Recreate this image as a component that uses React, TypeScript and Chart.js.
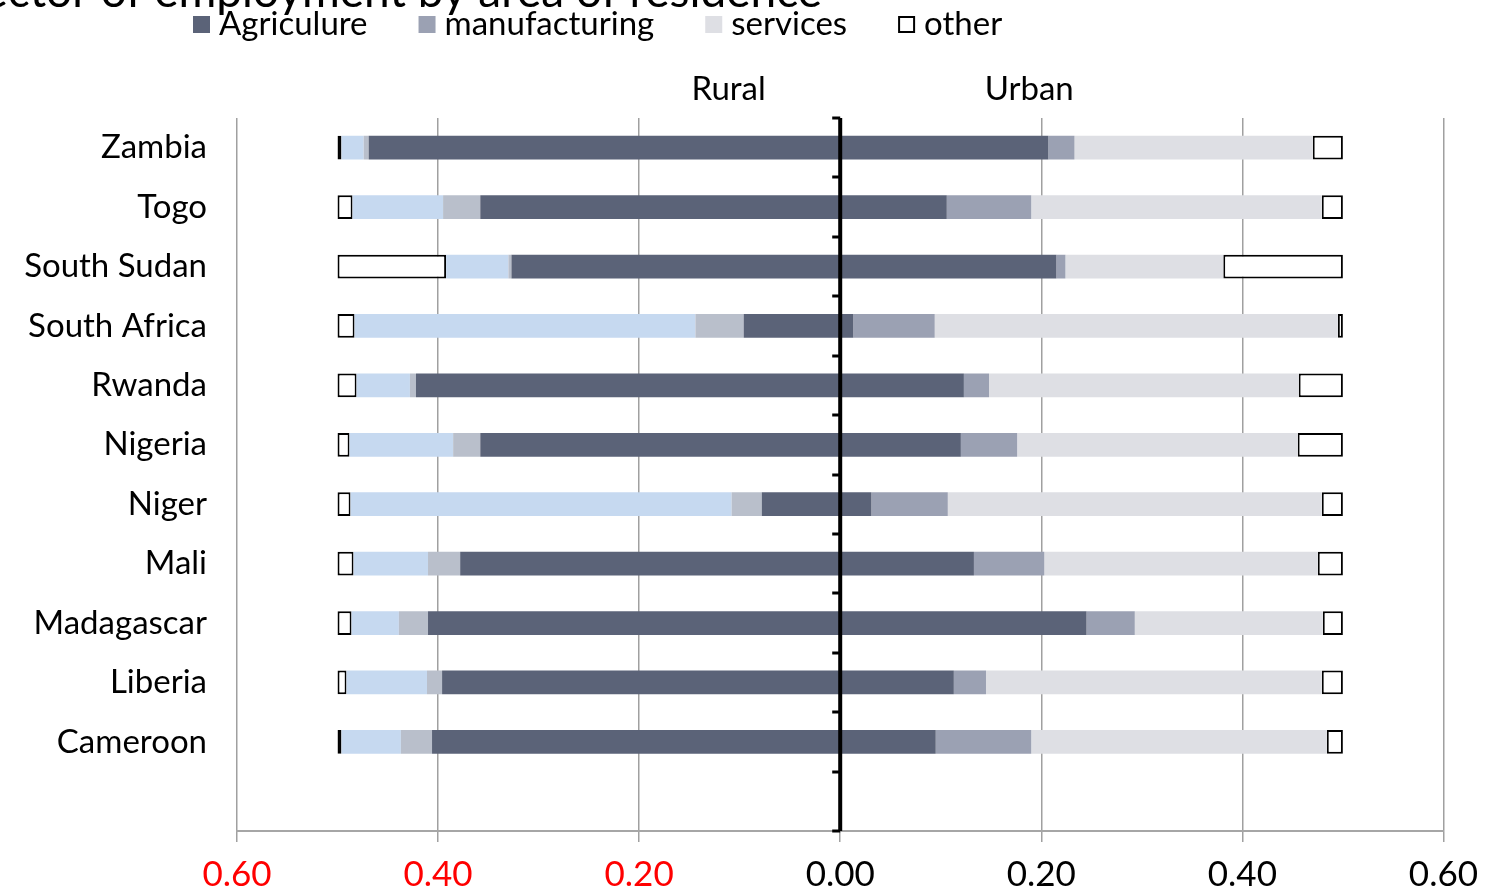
import React, { useEffect, useRef } from "react";
import { Chart, registerables } from "chart.js";

Chart.register(...registerables);

const title = "Sector of employment by area of residence";
const countries = [
  "Zambia",
  "Togo",
  "South Sudan",
  "South Africa",
  "Rwanda",
  "Nigeria",
  "Niger",
  "Mali",
  "Madagascar",
  "Liberia",
  "Cameroon",
];
const sectorNames = ["Agriculure", "manufacturing", "services", "other"];
const sideLabels = ["Rural", "Urban"];
const xTicks = [-0.6, -0.4, -0.2, 0, 0.2, 0.4, 0.6];

const ruralAgriculture = [0.469, 0.358, 0.327, 0.096, 0.422, 0.358, 0.078, 0.378, 0.41, 0.396, 0.406];
const ruralManufacturing = [0.005, 0.037, 0.003, 0.048, 0.006, 0.027, 0.03, 0.032, 0.029, 0.015, 0.031];
const ruralServices = [0.022, 0.09, 0.062, 0.339, 0.053, 0.103, 0.379, 0.074, 0.047, 0.08, 0.059];
const ruralOther = [0.004, 0.015, 0.108, 0.017, 0.019, 0.012, 0.013, 0.016, 0.014, 0.009, 0.004];

const urbanAgriculture = [0.207, 0.106, 0.215, 0.013, 0.123, 0.12, 0.031, 0.133, 0.245, 0.113, 0.095];
const urbanManufacturing = [0.026, 0.084, 0.009, 0.081, 0.025, 0.056, 0.076, 0.07, 0.048, 0.032, 0.095];
const urbanServices = [0.237, 0.289, 0.157, 0.401, 0.308, 0.279, 0.372, 0.272, 0.187, 0.334, 0.294];
const urbanOther = [0.03, 0.021, 0.119, 0.005, 0.044, 0.045, 0.021, 0.025, 0.02, 0.021, 0.016];

const FONT = "Lato, 'Open Sans', sans-serif";

export default function App() {
  const canvasRef = useRef<HTMLCanvasElement | null>(null);

  useEffect(() => {
    document.body.style.margin = "0";
    const canvas = canvasRef.current;
    if (!canvas) return;

    const labels = [...countries, ""];
    const neg = (a: number[]) => [...a.map((v) => -v), null];
    const pos = (a: number[]) => [...a, null];

    const plain = (label: string, data: any[], color: string) => ({
      label,
      data,
      backgroundColor: color,
      borderWidth: 0,
      categoryPercentage: 1,
      barPercentage: 0.4,
    });
    const boxed = (label: string, data: any[]) => ({
      label,
      data,
      backgroundColor: "#ffffff",
      borderColor: "#000000",
      borderWidth: 2,
      borderSkipped: false,
      categoryPercentage: 1,
      barPercentage: 0.4,
    });

    const datasets: any[] = [
      plain("rural " + sectorNames[0], neg(ruralAgriculture), "#5B6378"),
      plain("rural " + sectorNames[1], neg(ruralManufacturing), "#B9BFCB"),
      plain("rural " + sectorNames[2], neg(ruralServices), "#C6D9F0"),
      boxed("rural " + sectorNames[3], neg(ruralOther)),
      plain(sectorNames[0], pos(urbanAgriculture), "#5B6378"),
      plain(sectorNames[1], pos(urbanManufacturing), "#9BA1B3"),
      plain(sectorNames[2], pos(urbanServices), "#DEDFE4"),
      boxed(sectorNames[3], pos(urbanOther)),
    ];

    const overlay = {
      id: "overlay",
      afterDatasetsDraw(chart: any) {
        const { ctx, chartArea, scales } = chart;
        const x0 = scales.x.getPixelForValue(0);
        ctx.save();
        ctx.strokeStyle = "#000";
        ctx.lineWidth = 4;
        ctx.beginPath();
        ctx.moveTo(x0, chartArea.top);
        ctx.lineTo(x0, chartArea.bottom);
        ctx.stroke();
        const n = labels.length;
        const h = (chartArea.bottom - chartArea.top) / n;
        ctx.lineWidth = 3;
        for (let i = 0; i <= n; i++) {
          const y = Math.round(chartArea.top + i * h);
          ctx.beginPath();
          ctx.moveTo(x0 - 8, y);
          ctx.lineTo(x0, y);
          ctx.stroke();
        }
        ctx.restore();
      },
      afterDraw(chart: any) {
        const { ctx, scales } = chart;
        ctx.save();
        // title (cut off at the top, as in the source)
        ctx.fillStyle = "#000";
        ctx.font = `46px ${FONT}`;
        ctx.textAlign = "right";
        ctx.textBaseline = "alphabetic";
        ctx.fillText(title, 822, 7);
        // Rural / Urban
        ctx.font = `33px ${FONT}`;
        ctx.textAlign = "center";
        ctx.fillText(sideLabels[0], scales.x.getPixelForValue(-0.111), 100);
        ctx.fillText(sideLabels[1], scales.x.getPixelForValue(0.188), 100);
        // legend
        ctx.textAlign = "left";
        let lx = 193;
        const items = datasets.slice(4);
        items.forEach((ds: any) => {
          if (ds.borderWidth) {
            ctx.fillStyle = "#fff";
            ctx.fillRect(lx, 16, 17, 17);
            ctx.strokeStyle = "#000";
            ctx.lineWidth = 2;
            ctx.strokeRect(lx + 1, 17, 15, 15);
          } else {
            ctx.fillStyle = ds.backgroundColor;
            ctx.fillRect(lx, 16, 17, 17);
          }
          ctx.fillStyle = "#000";
          ctx.fillText(ds.label, lx + 26, 35);
          lx += 26 + ctx.measureText(ds.label).width + 51;
        });
        ctx.restore();
      },
    };

    const chart = new Chart(canvas, {
      type: "bar",
      data: { labels, datasets },
      plugins: [overlay],
      options: {
        indexAxis: "y",
        animation: false,
        responsive: true,
        maintainAspectRatio: false,
        layout: { padding: { top: 118, right: 46, left: 0, bottom: 0 } },
        plugins: {
          legend: { display: false },
          tooltip: { enabled: false },
          title: { display: false },
        },
        scales: {
          x: {
            type: "linear",
            stacked: true,
            min: -0.6,
            max: 0.6,
            afterBuildTicks: (scale: any) => {
              scale.ticks = xTicks.map((v) => ({ value: v }));
            },
            afterFit: (scale: any) => {
              scale.height = 63;
            },
            grid: {
              color: "#A0A0A0",
              lineWidth: 1.5,
              tickLength: 11,
              drawOnChartArea: true,
            },
            border: { display: true, color: "#A6A6A6", width: 2 },
            ticks: {
              padding: 12,
              font: { family: FONT, size: 35 },
              color: (c: any) => (c.tick && c.tick.value < 0 ? "#FF0000" : "#000000"),
              callback: (v: any) => Math.abs(Number(v)).toFixed(2),
            },
          },
          y: {
            type: "category",
            stacked: true,
            afterFit: (scale: any) => {
              scale.width = 237;
            },
            grid: { display: false },
            border: { display: false },
            ticks: {
              padding: 22,
              font: { family: FONT, size: 33 },
              color: "#000000",
              autoSkip: false,
            },
          },
        },
      } as any,
    });

    return () => chart.destroy();
  }, []);

  return (
    <div style={{ width: 1490, height: 894, position: "relative", background: "#fff" }}>
      <canvas ref={canvasRef} />
    </div>
  );
}
